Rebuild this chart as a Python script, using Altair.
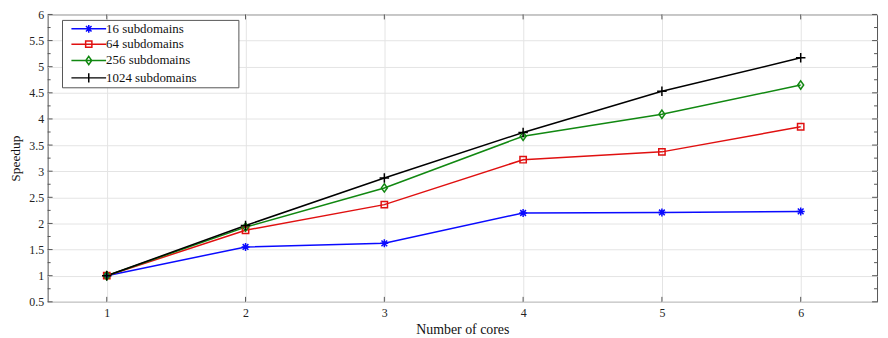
import altair as alt
import pandas as pd

# ---- data ----
cores = [1, 2, 3, 4, 5, 6]
series_names = ["16 subdomains", "64 subdomains", "256 subdomains", "1024 subdomains"]
speedup_16 = [1.00, 1.55, 1.62, 2.20, 2.21, 2.23]
speedup_64 = [1.00, 1.87, 2.36, 3.22, 3.37, 3.85]
speedup_256 = [1.00, 1.93, 2.68, 3.67, 4.09, 4.65]
speedup_1024 = [1.00, 1.96, 2.87, 3.74, 4.53, 5.17]

y_major_ticks = [0.5, 1, 1.5, 2, 2.5, 3, 3.5, 4, 4.5, 5, 5.5, 6]
y_minor_ticks = [0.75, 1.25, 1.75, 2.25, 2.75, 3.25, 3.75, 4.25, 4.75, 5.25, 5.75]
x_ticks = [1, 2, 3, 4, 5, 6]

# ---- styles ----
colors = ["#0a0aff", "#e01010", "#118811", "#000000"]
marker_paths = [
    "M-1,0L1,0M0,-1L0,1M-0.72,-0.72L0.72,0.72M-0.72,0.72L0.72,-0.72",  # asterisk
    "M-0.8,-0.8L0.8,-0.8L0.8,0.8L-0.8,0.8Z",                           # square
    "M0,-1.05L0.75,0L0,1.05L-0.75,0Z",                                   # diamond
    "M-1.2,0L1.2,0M0,-1.2L0,1.2",                                        # plus
]
legend_paths = [
    "M-5,0L5,0M-1.1,0L1.1,0M0,-1.1L0,1.1M-0.8,-0.8L0.8,0.8M-0.8,0.8L0.8,-0.8",
    "M-5,0L5,0M-0.9,-0.9L0.9,-0.9L0.9,0.9L-0.9,0.9Z",
    "M-5,0L5,0M0,-1.2L0.85,0L0,1.2L-0.85,0Z",
    "M-5,0L5,0M0,-1.3L0,1.3",
]

rows = []
for name, vals in zip(series_names, [speedup_16, speedup_64, speedup_256, speedup_1024]):
    for c, v in zip(cores, vals):
        rows.append({"cores": c, "speedup": v, "series": name})
df = pd.DataFrame(rows)

ymaj_df = pd.DataFrame({"speedup": y_major_ticks})
ymin_df = pd.DataFrame({"speedup": y_minor_ticks})
xt_df = pd.DataFrame({"cores": x_ticks})
frame_df = pd.DataFrame({"k": [0]})

FONT = "Liberation Serif"
W, H = 837, 290
FRAME = "#555555"

xscale = alt.Scale(domain=[0.574, 6.55], nice=False, zero=False)
yscale = alt.Scale(domain=[0.5, 6], nice=False, zero=False)

x_axis = alt.Axis(values=x_ticks, title="Number of cores", grid=True, ticks=False,
                  domain=False, labelPadding=6, titlePadding=4, format="d")
y_axis = alt.Axis(values=y_major_ticks, title="Speedup", grid=True, ticks=False,
                  domain=False, labelPadding=4, titlePadding=6, titleFontSize=13.5,
                  format="~g")


def X(field="cores:Q"):
    return alt.X(field, scale=xscale, axis=x_axis)


def Y(field="speedup:Q"):
    return alt.Y(field, scale=yscale, axis=y_axis)


color_scale = alt.Scale(domain=series_names, range=colors)

lines = alt.Chart(df).mark_line(strokeWidth=1.5).encode(
    x=X(), y=Y(),
    color=alt.Color("series:N", scale=color_scale, legend=None),
)

points = alt.Chart(df).mark_point(filled=False, size=64, strokeWidth=1.5, opacity=1).encode(
    x=X(), y=Y(),
    color=alt.Color("series:N", scale=color_scale, legend=None),
    shape=alt.Shape("series:N", scale=alt.Scale(domain=series_names, range=marker_paths), legend=None),
)

legend_common = dict(
    title=None, orient="none", legendX=15, legendY=4,
    padding=4, rowPadding=1.5, symbolSize=49, symbolOffset=16, labelOffset=11,
    symbolStrokeWidth=1.5, labelFont=FONT, labelFontSize=13, labelColor="#111111",
)

legend_layer = alt.Chart(df).mark_point(filled=False, strokeWidth=1.5, opacity=1).encode(
    x=X(), y=Y(),
    color=alt.Color("series:N", scale=color_scale, legend=alt.Legend(**legend_common)),
    shape=alt.Shape("series:N", scale=alt.Scale(domain=series_names, range=legend_paths),
                    legend=alt.Legend(**legend_common)),
).transform_filter("datum.cores < 0")

# legend frame (decoration)
legend_box = alt.Chart(frame_df).mark_rect(fill="white", stroke=FRAME, strokeWidth=1).encode(
    x=alt.value(15), x2=alt.value(193), y=alt.value(6), y2=alt.value(74))

tick_style = dict(color=FRAME, strokeWidth=1)
y_left_major = alt.Chart(ymaj_df).mark_rule(**tick_style).encode(
    y=Y(), x=alt.value(0), x2=alt.value(5))
y_left_minor = alt.Chart(ymin_df).mark_rule(**tick_style).encode(
    y=Y(), x=alt.value(0), x2=alt.value(3))
y_right_major = alt.Chart(ymaj_df).mark_rule(**tick_style).encode(
    y=Y(), x=alt.value(W - 5), x2=alt.value(W))
y_right_minor = alt.Chart(ymin_df).mark_rule(**tick_style).encode(
    y=Y(), x=alt.value(W - 3), x2=alt.value(W))
x_bottom = alt.Chart(xt_df).mark_rule(**tick_style).encode(
    x=X(), y=alt.value(H - 5), y2=alt.value(H))
x_top = alt.Chart(xt_df).mark_rule(**tick_style).encode(
    x=X(), y=alt.value(0), y2=alt.value(5))

chart = alt.layer(
    lines, y_left_major, y_left_minor, y_right_major, y_right_minor, x_bottom, x_top,
    legend_box, points, legend_layer,
).resolve_scale(
    color="independent", shape="independent"
).properties(
    width=W, height=H,
    autosize=alt.AutoSizeParams(type="none"),
    padding={"left": 40, "top": 5, "right": 3, "bottom": 35},
    background="white",
).configure_view(
    stroke=FRAME, strokeWidth=1,
).configure_axis(
    labelFont=FONT, titleFont=FONT, labelFontSize=12, titleFontSize=14,
    titleFontWeight="normal", labelColor="#222222", titleColor="#111111",
    gridColor="#e4e4e4", gridWidth=1,
)

chart.save("out.html", embed_options={"renderer": "svg", "actions": False})
